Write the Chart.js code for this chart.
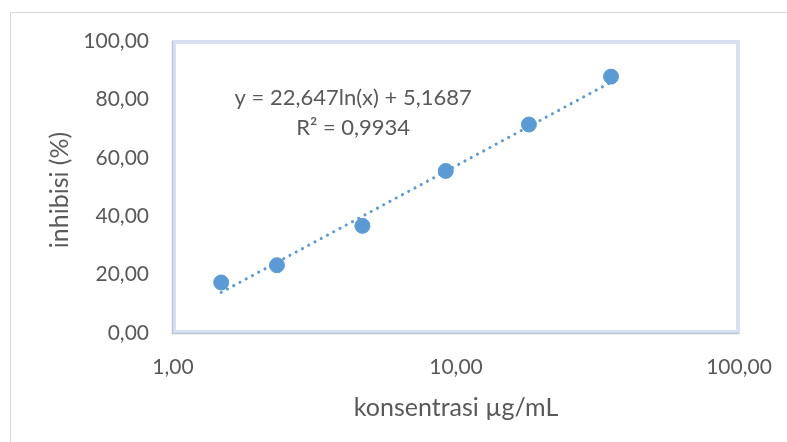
<!DOCTYPE html>
<html>
<head>
<meta charset="utf-8">
<script src="https://cdn.jsdelivr.net/npm/chart.js@4.4.1/dist/chart.umd.min.js"></script>
<style>
  html, body { margin: 0; padding: 0; background: #fff; }
  #wrap { position: relative; width: 787px; height: 442px; overflow: hidden; }
  #frame { position: absolute; left: 10px; top: 12px; width: 800px; height: 460px; border: 1px solid #d9d9d9; box-sizing: border-box; }
  canvas { position: absolute; left: 0; top: 0; }
</style>
</head>
<body>
<div id="wrap">
  <div id="frame"></div>
  <canvas id="chart" width="787" height="442"></canvas>
</div>
<script>
// concentration (µg/mL) and inhibition (%)
const konsentrasi = [1.48, 2.33, 4.67, 9.2, 18.1, 35.3];
const inhibisi = [17.3, 23.2, 36.7, 55.5, 71.4, 87.8];

// logarithmic trendline, straight on a log axis: ends
const trendX = [1.48, 35.3];
const trendY = [13.9, 85.9];

const xTicks = [1, 10, 100];
const yTicks = [0, 20, 40, 60, 80, 100];

const equation = ['y = 22,647ln(x) + 5,1687', 'R² = 0,9934'];
const yTitle = 'inhibisi (%)';

const blue = '#5b9bd5';
const textColor = '#595959';
const fontFamily = 'Lato, "Open Sans", sans-serif';

function fmt(v) {
    return Number(v).toFixed(2).replace('.', ',');
}

const plotBorder = {
    id: 'plotBorder',
    beforeDatasetsDraw(chart) {
        const { ctx, chartArea: a } = chart;
        ctx.save();
        ctx.strokeStyle = '#d6e1f2';
        ctx.lineWidth = 4;
        ctx.strokeRect(a.left + 1, a.top + 1, a.right - a.left - 2, a.bottom - a.top - 2);
        ctx.strokeStyle = '#bcc6d6';
        ctx.lineWidth = 1.5;
        ctx.beginPath();
        ctx.moveTo(a.left - 0.5, a.top);
        ctx.lineTo(a.left - 0.5, a.bottom + 0.5);
        ctx.lineTo(a.right, a.bottom + 0.5);
        ctx.stroke();
        ctx.restore();
    }
};

// equation label and the y axis title
const extraText = {
    id: 'extraText',
    afterDraw(chart) {
        const { ctx, scales, chartArea: a } = chart;
        const x = scales.x.getPixelForValue(4.33);
        const y = scales.y.getPixelForValue(80.5);
        ctx.save();
        ctx.fillStyle = textColor;
        ctx.font = '22px ' + fontFamily;
        ctx.textAlign = 'center';
        ctx.textBaseline = 'middle';
        equation.forEach((line, i) => ctx.fillText(line, x, y + i * 29.5));

        ctx.font = '25px ' + fontFamily;
        ctx.translate(60, (a.top + a.bottom) / 2 + 3);
        ctx.rotate(-Math.PI / 2);
        ctx.fillText(yTitle, 0, 0);
        ctx.restore();
    }
};

const ctx = document.getElementById('chart').getContext('2d');
new Chart(ctx, {
    type: 'scatter',
    data: {
        datasets: [{
            label: 'trend',
            type: 'line',
            data: trendX.map((x, i) => ({ x: x, y: trendY[i] })),
            borderColor: blue,
            borderWidth: 3,
            borderDash: [0.1, 7],
            borderCapStyle: 'round',
            pointRadius: 0,
            fill: false,
            order: 2
        }, {
            label: 'inhibisi',
            data: konsentrasi.map((x, i) => ({ x: x, y: inhibisi[i] })),
            backgroundColor: blue,
            borderColor: blue,
            pointRadius: 7.5,
            pointHoverRadius: 7.5,
            order: 1
        }]
    },
    options: {
        responsive: false,
        animation: false,
        devicePixelRatio: 1,
        layout: { padding: { top: 41, right: 48, bottom: 0, left: 0 } },
        plugins: {
            legend: { display: false },
            tooltip: { enabled: false }
        },
        scales: {
            x: {
                type: 'logarithmic',
                min: 1,
                max: 100,
                afterBuildTicks(scale) {
                    scale.ticks = xTicks.map(v => ({ value: v }));
                },
                afterFit(scale) { scale.height = 109; },
                grid: { display: false },
                border: { display: false },
                ticks: {
                    color: textColor,
                    font: { family: fontFamily, size: 21 },
                    padding: 14,
                    maxRotation: 0,
                    autoSkip: false,
                    callback: v => fmt(v)
                },
                title: {
                    display: true,
                    text: 'konsentrasi µg/mL',
                    color: textColor,
                    font: { family: fontFamily, size: 25 },
                    padding: { top: 0, bottom: 19 }
                }
            },
            y: {
                min: 0,
                max: 100,
                afterBuildTicks(scale) {
                    scale.ticks = yTicks.map(v => ({ value: v }));
                },
                afterFit(scale) { scale.width = 173; },
                grid: { display: false },
                border: { display: false },
                ticks: {
                    color: textColor,
                    font: { family: fontFamily, size: 21 },
                    padding: 16,
                    callback: v => fmt(v)
                },
                title: { display: false }
            }
        }
    },
    plugins: [plotBorder, extraText]
});
</script>
</body>
</html>
